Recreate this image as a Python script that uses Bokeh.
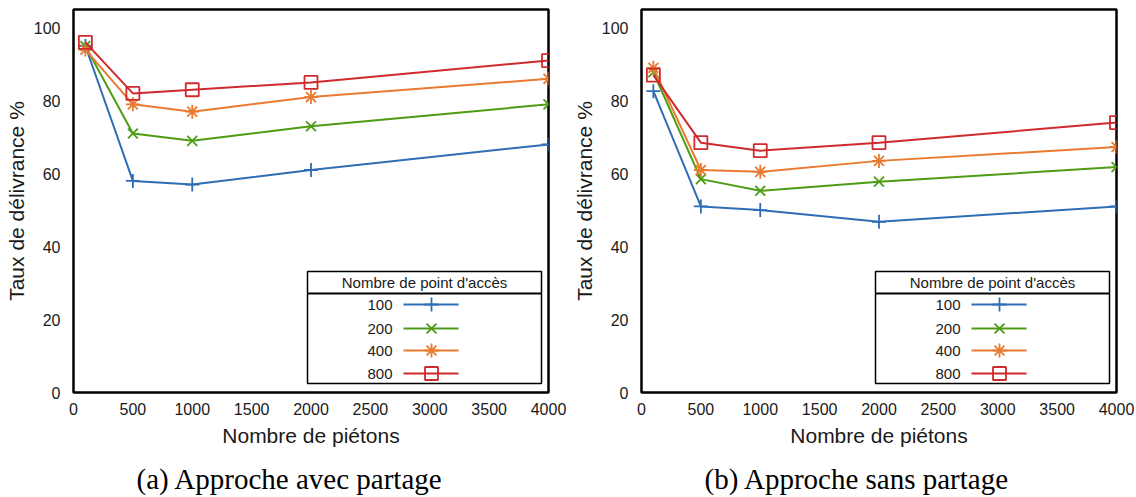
from bokeh.plotting import figure
from bokeh.layouts import row
from bokeh.models import Range1d, FixedTicker, Title
from bokeh.core.properties import value
from bokeh.embed import file_html
from bokeh.resources import INLINE

# ---- data ----
pietons = [100, 500, 1000, 2000, 4000]
series_names = ["100", "200", "400", "800"]

avec_100 = [95, 58, 57, 61, 68]
avec_200 = [95, 71, 69, 73, 79]
avec_400 = [94, 79, 77, 81, 86]
avec_800 = [96, 82, 83, 85, 91]

sans_100 = [82.6, 51, 50, 46.8, 51]
sans_200 = [87.8, 58.5, 55.3, 57.8, 61.8]
sans_400 = [89, 61, 60.5, 63.5, 67.3]
sans_800 = [87, 68.5, 66.3, 68.5, 74]

x_ticks = [0, 500, 1000, 1500, 2000, 2500, 3000, 3500, 4000]
y_ticks = [0, 20, 40, 60, 80, 100]

captions = ["(a) Approche avec partage", "(b) Approche sans partage"]
legend_title = "Nombre de point d'accès"
x_label = "Nombre de piétons"
y_label = "Taux de délivrance %"

# ---- style ----
colors = ["#2f6db5", "#4e9c14", "#ea7a30", "#cf2a2e"]
markers = ["cross", "x", "asterisk", "square"]
msizes = [14, 14, 14, 13]
SANS = "Liberation Sans"
SERIF = "Liberation Serif"

X0, X1, Y0, Y1 = 0, 4000, 0, 105
FW, FH = 475, 383
PW, PH = 568, 497
BT = 9


def px2d(fx, fy):
    return fx * (X1 - X0) / FW, fy * (Y1 - Y0) / FH


def make_panel(data, caption, bl):
    br = PW - bl - FW
    p = figure(width=PW, height=PH, output_backend="svg",
               toolbar_location=None, x_range=Range1d(X0, X1),
               y_range=Range1d(Y0, Y1), min_border_left=bl,
               min_border_right=br, min_border_top=BT,
               min_border_bottom=PH - BT - FH)
    p.outline_line_color = "black"
    p.outline_line_width = 2.5
    p.grid.visible = False
    p.background_fill_color = "white"
    p.border_fill_color = "white"
    for ax in (p.xaxis[0], p.yaxis[0]):
        ax.axis_line_color = None
        ax.major_tick_line_color = None
        ax.minor_tick_line_color = None
        ax.major_label_text_font = SANS
        ax.major_label_text_font_size = "16px"
        ax.major_label_text_color = "#1a1a1a"
        ax.axis_label_text_font = SANS
        ax.axis_label_text_font_size = "21px"
        ax.axis_label_text_font_style = "normal"
        ax.axis_label_text_color = "#1a1a1a"
    p.xaxis.ticker = FixedTicker(ticks=x_ticks)
    p.yaxis.ticker = FixedTicker(ticks=y_ticks)
    p.xaxis.axis_label = x_label
    p.yaxis.axis_label = y_label
    p.xaxis.major_label_standoff = 4
    p.xaxis.axis_label_standoff = 6
    p.yaxis.major_label_standoff = 7
    p.yaxis.axis_label_standoff = 3

    for vals, c, m, s in zip(data, colors, markers, msizes):
        p.line(pietons, vals, line_color=c, line_width=2)
        p.scatter(pietons, vals, marker=m, size=s, line_color=c,
                  fill_color=None, line_width=1.8)

    # legend box (frame pixel layout)
    lx0, lx1, ly0, ly1, lsep = 234, 468, 9, 121, 99
    a, b = px2d(lx0, ly0)
    c_, d = px2d(lx1, ly1)
    p.quad(left=a, right=c_, bottom=b, top=d, fill_color="white",
           line_color="black", line_width=1.5)
    _, ys = px2d(0, lsep)
    p.segment(x0=a, x1=c_, y0=ys, y1=ys, line_color="black", line_width=2)
    tx, ty = px2d((lx0 + lx1) / 2, 110)
    p.text(x=[tx], y=[ty], text=[legend_title], text_font=value(SANS),
           text_font_size="15px", text_align="center",
           text_baseline="middle", text_color="#1a1a1a")
    rows = [88, 64, 42, 19]
    for name, fy, c, m, s in zip(series_names, rows, colors, markers, msizes):
        lxl, yy = px2d(319, fy)
        sx0, _ = px2d(330, fy)
        sx1, _ = px2d(385, fy)
        mx, _ = px2d(358, fy)
        p.text(x=[lxl], y=[yy], text=[name], text_font=value(SANS),
               text_font_size="15px", text_align="right",
               text_baseline="middle", text_color="#1a1a1a")
        p.segment(x0=sx0, x1=sx1, y0=yy, y1=yy, line_color=c, line_width=2)
        p.scatter([mx], [yy], marker=m, size=s, line_color=c,
                  fill_color=None, line_width=1.8)

    spacer = Title(text=" ", text_font_size="1px", standoff=8)
    p.add_layout(spacer, "below")
    cap = Title(text=caption, align="left", offset=63, standoff=0,
                text_font=SERIF, text_font_size="29px",
                text_font_style="normal", text_color="black")
    p.add_layout(cap, "below")
    return p


pa = make_panel([avec_100, avec_200, avec_400, avec_800], captions[0], 73)
pb = make_panel([sans_100, sans_200, sans_400, sans_800], captions[1], 73)
layout = row(pa, pb, spacing=0)
open("out.html", "w").write(file_html(layout, INLINE))
